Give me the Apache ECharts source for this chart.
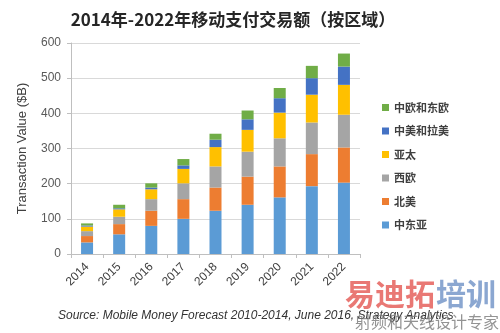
<!DOCTYPE html>
<html><head><meta charset="utf-8">
<script src="https://cdn.jsdelivr.net/npm/echarts@6/dist/echarts.min.js"></script>
<style>html,body{margin:0;padding:0;background:#fff}#c{width:500px;height:333px}</style>
</head><body><div id="c"></div>
<script>
const years = ['2014','2015','2016','2017','2018','2019','2020','2021','2022'];
const seriesNames = ['中东亚','北美','西欧','亚太','中美和拉美','中欧和东欧'];
const mea   = [33, 56, 80, 100, 123, 140, 161, 193, 203];
const na    = [18, 29, 43, 56, 66, 80, 88, 91, 100];
const we    = [14, 21, 33, 45, 60, 71, 80, 90, 93];
const apac  = [13, 21, 28, 41, 55, 62, 73, 79, 85];
const latam = [3, 3, 5, 10, 21, 30, 41, 47, 52];
const cee   = [6, 10, 12, 18, 17, 25, 29, 35, 37];
const yTicks = [0, 100, 200, 300, 400, 500, 600];
const colors = ['#5B9BD5','#ED7D31','#A5A5A5','#FFC000','#4472C4','#70AD47'];
const values = [mea, na, we, apac, latam, cee];

const chart = echarts.init(document.getElementById('c'), null, {renderer:'canvas'});
chart.setOption({
  animation:false,
  backgroundColor:'#fff',
  title:{text:'2014年-2022年移动支付交易额（按区域）', left:228, textAlign:'center', top:6,
    textStyle:{fontFamily:'Noto Sans CJK SC', fontWeight:'bold', fontSize:17, color:'#262626'}},
  grid:{left:71, right:140, top:43, bottom:79},
  legend:{orient:'vertical', left:377, top:97, itemWidth:7, itemHeight:7, itemGap:12.5, icon:'rect',
    data: seriesNames.slice().reverse(),
    textStyle:{fontFamily:'Noto Sans CJK SC', fontSize:11, color:'#404040', fontWeight:'bold'}},
  xAxis:{type:'category', data:years,
    axisLine:{lineStyle:{color:'#bfbfbf'}},
    axisTick:{show:true, length:4, lineStyle:{color:'#bfbfbf'}},
    axisLabel:{rotate:45, fontSize:12, color:'#404040', fontFamily:'Liberation Sans', margin:11}},
  yAxis:{type:'value', min:0, max:600, interval:100,
    name:'Transaction Value ($B)', nameLocation:'middle', nameGap:42, nameRotate:90,
    nameTextStyle:{fontSize:13, color:'#404040', fontFamily:'Liberation Sans'},
    axisLine:{show:true, lineStyle:{color:'#bfbfbf'}},
    axisTick:{show:true, length:4, lineStyle:{color:'#bfbfbf'}},
    axisLabel:{fontSize:12, color:'#595959', fontFamily:'Liberation Sans', margin:10,
      formatter: v => yTicks.includes(v) ? String(v) : ''},
    splitLine:{lineStyle:{color:'#d9d9d9'}}},
  series: seriesNames.map((n,i)=>({name:n, type:'bar', stack:'t', barWidth:12, data:values[i],
    itemStyle:{color:colors[i]}})),
  graphic:[
    {type:'text', left:58, top:310, style:{text:'Source: Mobile Money Forecast 2010-2014, June 2016, Strategy Analytics',
      font:'italic 12px "Liberation Sans"', fill:'#333'}},
    {type:'text', left:345, top:279, style:{text:'易迪拓', font:'bold 30px "Noto Sans CJK SC"', fill:'rgba(225,75,70,0.75)'}},
    {type:'text', left:436, top:279, style:{text:'培训', font:'bold 30px "Noto Sans CJK SC"', fill:'rgba(90,130,190,0.7)'}},
    {type:'text', left:355, top:314, style:{text:'射频和天线设计专家', font:'16px "Noto Sans CJK SC"', fill:'rgba(120,120,120,0.8)'}}
  ]
});
</script></body></html>
